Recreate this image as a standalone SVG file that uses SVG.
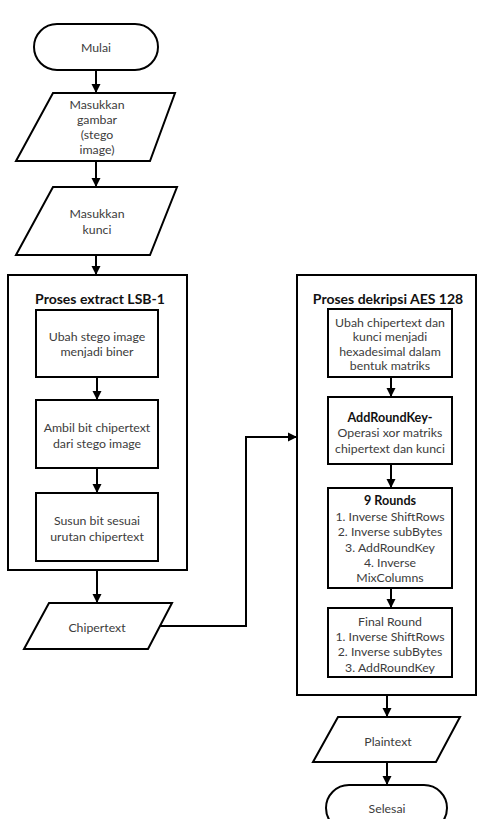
<svg xmlns="http://www.w3.org/2000/svg" width="479" height="819" viewBox="0 0 479 819">
<defs>
<marker id="arr" markerUnits="userSpaceOnUse" markerWidth="10" markerHeight="10" viewBox="0 0 10 10" refX="9" refY="5" orient="auto">
<path d="M0,0.5 L9,5 L0,9.5 Z" fill="#000"/>
</marker>
<style>
.s{fill:#fff;stroke:#000;stroke-width:2}
.c{fill:none;stroke:#000;stroke-width:2;marker-end:url(#arr)}
text{font-family:Lato,"Open Sans","Liberation Sans",sans-serif;font-size:12.3px;fill:#3c3c3c;text-anchor:middle;dominant-baseline:central}
.b{font-weight:bold;fill:#111;font-size:12.6px}
.t{font-weight:bold;fill:#111;font-size:14px}
</style>
</defs>
<rect width="479" height="819" fill="#fff"/>
<g id="mulai"><rect class="s" x="34" y="24" width="124" height="46" rx="23"/><text x="96" y="47">Mulai</text></g>
<g id="input-gambar"><polygon class="s" points="53,93 175,93 150,161 16,161"/>
<text x="97" y="104">Masukkan</text><text x="97" y="119">gambar</text><text x="97" y="134">(stego</text><text x="97" y="149">image)</text></g>
<g id="input-kunci"><polygon class="s" points="53,187 177,187 150,255 16,255"/>
<text x="97" y="213">Masukkan</text><text x="97" y="229">kunci</text></g>
<g id="proses-lsb"><rect class="s" x="8" y="275" width="179" height="295"/><text class="t" x="100" y="298">Proses extract LSB-1</text></g>
<g id="ubah-biner"><rect class="s" x="36" y="310" width="122" height="67"/><text x="97" y="336">Ubah stego image</text><text x="97" y="351">menjadi biner</text></g>
<g id="ambil-bit"><rect class="s" x="36" y="400" width="122" height="68"/><text x="97" y="427">Ambil bit chipertext</text><text x="97" y="443">dari stego image</text></g>
<g id="susun-bit"><rect class="s" x="36" y="493" width="122" height="68"/><text x="97" y="520">Susun bit sesuai</text><text x="97" y="536">urutan chipertext</text></g>
<g id="chipertext"><polygon class="s" points="49,603 172,603 148,649 24,649"/><text x="97" y="627">Chipertext</text></g>
<g id="proses-aes"><rect class="s" x="297" y="275" width="179" height="420"/><text class="t" x="388" y="298">Proses dekripsi AES 128</text></g>
<g id="ubah-hex"><rect class="s" x="328" y="309" width="124" height="68"/>
<text x="390" y="322">Ubah chipertext dan</text><text x="390" y="336">kunci menjadi</text><text x="390" y="351">hexadesimal dalam</text><text x="390" y="365">bentuk matriks</text></g>
<g id="addroundkey"><rect class="s" x="328" y="397" width="124" height="67"/>
<text class="b" x="390" y="417">AddRoundKey-</text><text x="390" y="432">Operasi xor matriks</text><text x="390" y="448">chipertext dan kunci</text></g>
<g id="rounds9"><rect class="s" x="328" y="488" width="124" height="100"/>
<text class="b" x="390" y="500">9 Rounds</text><text x="390" y="516">1. Inverse ShiftRows</text><text x="390" y="531">2. Inverse subBytes</text><text x="390" y="547">3. AddRoundKey</text><text x="390" y="562">4. Inverse</text><text x="390" y="577">MixColumns</text></g>
<g id="final-round"><rect class="s" x="328" y="608" width="124" height="69"/>
<text x="390" y="621">Final Round</text><text x="390" y="636">1. Inverse ShiftRows</text><text x="390" y="651">2. Inverse subBytes</text><text x="390" y="667">3. AddRoundKey</text></g>
<g id="plaintext"><polygon class="s" points="338,717 460,717 436,762 313,762"/><text x="388" y="741">Plaintext</text></g>
<g id="selesai"><rect class="s" x="326" y="785" width="121" height="46" rx="23"/><text x="387" y="808">Selesai</text></g>
<g id="connectors">
<path class="c" d="M96,70 V93"/>
<path class="c" d="M96,161 V187"/>
<path class="c" d="M96,255 V275"/>
<path class="c" d="M97,377 V400"/>
<path class="c" d="M97,468 V493"/>
<path class="c" d="M97,570 V603"/>
<path class="c" d="M160,626 H246 V437 H297"/>
<path class="c" d="M391,377 V397"/>
<path class="c" d="M391,464 V488"/>
<path class="c" d="M391,588 V608"/>
<path class="c" d="M387,695 V717"/>
<path class="c" d="M387,762 V785"/>
</g>
</svg>
